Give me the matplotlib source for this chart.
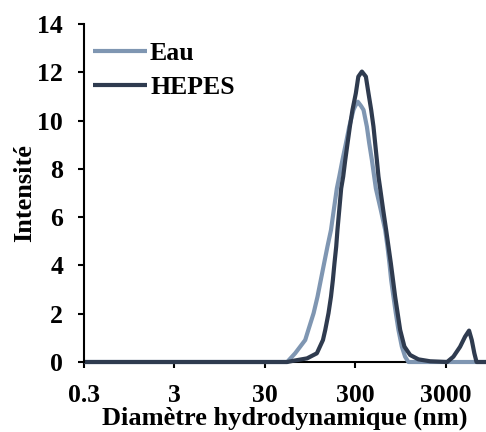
import matplotlib
matplotlib.use("Agg")
import matplotlib.pyplot as plt
from matplotlib.ticker import FixedLocator, NullLocator

# Data
diam_eau = [0.3, 40, 53, 65, 84, 91, 104, 115, 125, 136, 148, 162, 174, 188, 200, 217, 237,
            258, 287, 300, 321, 349, 371, 404, 429, 459, 487, 508, 576, 644, 683, 718, 750,
            795, 845, 903, 984, 1070, 1164, 8400]
int_eau = [0, 0, 0, 0.36, 0.91, 1.33, 2.02, 2.71, 3.40, 4.09, 4.78, 5.47, 6.3, 7.19, 7.68,
           8.37, 9.06, 9.75, 10.44, 10.6, 10.78, 10.6, 10.44, 9.75, 9.06, 8.37, 7.68, 7.19,
           6.3, 5.47, 4.78, 4.09, 3.40, 2.71, 2.02, 1.33, 0.64, 0.22, 0, 0]

diam_hepes = [0.3, 40, 53, 62, 88, 113, 132, 140, 152, 162, 170, 177, 185, 191, 200, 210,
              221, 233, 247, 262, 280, 305, 325, 356, 394, 421, 451, 478, 499, 521, 543,
              567, 612, 660, 744, 830, 943, 1051, 1216, 1501, 2023, 3118, 3660, 4339, 4928,
              5456, 5845, 6243, 6603, 8400]
int_hepes = [0, 0, 0, 0.05, 0.15, 0.36, 0.91, 1.33, 2.02, 2.71, 3.40, 4.09, 4.78, 5.47, 6.3,
             7.19, 7.68, 8.37, 9.06, 9.75, 10.44, 11.13, 11.82, 12.03, 11.82, 11.13, 10.44,
             9.75, 9.06, 8.37, 7.68, 7.19, 6.3, 5.47, 4.09, 2.71, 1.33, 0.64, 0.29, 0.11,
             0.03, 0, 0.22, 0.63, 1.05, 1.30, 0.91, 0.36, 0, 0]

x_ticks = [0.3, 3, 30, 300, 3000]
x_tick_labels = ["0.3", "3", "30", "300", "3000"]
y_ticks = [0, 2, 4, 6, 8, 10, 12, 14]

labels = ["Eau", "HEPES"]
colors = ["#7f96b2", "#2f3b4f"]

plt.rcParams['font.family'] = ['Liberation Serif', 'DejaVu Serif']
plt.rcParams['font.weight'] = 'bold'

fig = plt.figure(figsize=(4.86, 4.32), dpi=100)
ax = fig.add_axes([84/486, 70/432, 402/486, 338/432])

ax.plot(diam_eau, int_eau, color=colors[0], lw=3, label=labels[0], clip_on=False,
        solid_capstyle='butt', solid_joinstyle='round')
ax.plot(diam_hepes, int_hepes, color=colors[1], lw=3, label=labels[1], clip_on=False,
        solid_capstyle='butt', solid_joinstyle='round')

ax.set_xscale('log')
ax.set_xlim(0.3, 8400)
ax.set_ylim(0, 14)
ax.xaxis.set_major_locator(FixedLocator(x_ticks))
ax.xaxis.set_minor_locator(NullLocator())
ax.set_xticklabels(x_tick_labels)
ax.set_yticks(y_ticks)

for s in ['top', 'right']:
    ax.spines[s].set_visible(False)
for s in ['left', 'bottom']:
    ax.spines[s].set_linewidth(1.5)
    ax.spines[s].set_color('black')
ax.spines['bottom'].set_zorder(0.5)

ax.tick_params(axis='both', direction='out', length=4.5, width=1.5, labelsize=18.5, colors='black')
ax.tick_params(axis='y', pad=10.5)
ax.tick_params(axis='x', pad=11)
for lab in ax.get_xticklabels() + ax.get_yticklabels():
    lab.set_fontweight('bold')

ax.set_xlabel("Diamètre hydrodynamique (nm)", fontsize=19, fontweight='bold', labelpad=0)
ax.set_ylabel("Intensité", fontsize=19, fontweight='bold', labelpad=1)

leg = ax.legend(loc='upper left', bbox_to_anchor=(9/402, 0.948), frameon=False,
                borderpad=0, borderaxespad=0, handlelength=2.1, handletextpad=0.12,
                labelspacing=0.46, prop={'size': 18.5, 'weight': 'bold'})

fig.savefig("out.png", dpi=100)
